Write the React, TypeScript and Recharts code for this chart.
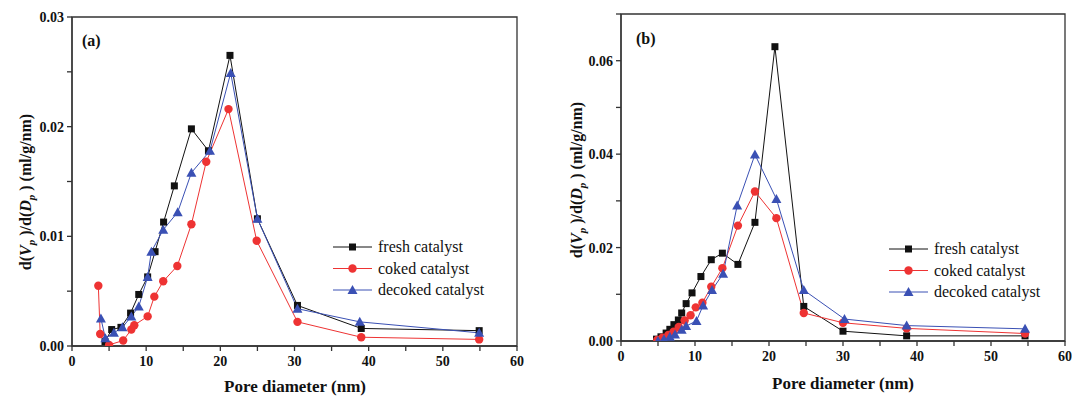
import React from "react";
import {
  LineChart,
  Line,
  XAxis,
  YAxis,
  ReferenceArea,
} from "recharts";

// panel (a) - pore size distributions
const freshA_D = [4.45, 5.35, 6.6, 7.9, 9.0, 10.2, 11.2, 12.35, 13.8, 16.1, 18.4, 21.3, 25.0, 30.4, 39.0, 54.9];
const freshA_V = [0.0004, 0.0015, 0.0017, 0.003, 0.0047, 0.0063, 0.0086, 0.0113, 0.0146, 0.0198, 0.0178, 0.0265, 0.0116, 0.0037, 0.0016, 0.0014];
const cokedA_D = [3.55, 3.8, 5.0, 6.9, 8.0, 8.4, 10.2, 11.1, 12.3, 14.2, 16.1, 18.1, 21.1, 24.9, 30.4, 39.0, 54.9];
const cokedA_V = [0.0055, 0.0011, 0.0001, 0.0005, 0.0015, 0.0019, 0.0027, 0.0045, 0.0059, 0.0073, 0.0111, 0.0168, 0.0216, 0.0096, 0.0022, 0.0008, 0.0006];
const decokedA_D = [3.9, 4.5, 5.65, 6.8, 8.0, 9.0, 10.2, 10.7, 12.3, 14.25, 16.1, 18.6, 21.4, 25.0, 30.4, 38.8, 54.9];
const decokedA_V = [0.0025, 0.0007, 0.0012, 0.0017, 0.0027, 0.0036, 0.0063, 0.0086, 0.0106, 0.0122, 0.0158, 0.0178, 0.0249, 0.0116, 0.0034, 0.0022, 0.0012];

// panel (b)
const freshB_D = [4.8, 5.4, 6.1, 6.6, 7.15, 7.75, 8.2, 8.8, 9.6, 10.8, 12.2, 13.7, 15.8, 18.1, 20.8, 24.7, 30.0, 38.6, 54.6];
const freshB_V = [0.0004, 0.0009, 0.0017, 0.0025, 0.0035, 0.0045, 0.006, 0.008, 0.0103, 0.0138, 0.0174, 0.0188, 0.0164, 0.0254, 0.063, 0.0074, 0.0021, 0.0011, 0.0011];
const cokedB_D = [4.9, 5.6, 6.4, 7.1, 7.8, 8.6, 9.4, 10.1, 11.0, 12.2, 13.7, 15.8, 18.1, 21.0, 24.7, 30.0, 38.6, 54.6];
const cokedB_V = [0.0002, 0.0007, 0.0013, 0.002, 0.003, 0.0044, 0.0055, 0.0072, 0.0082, 0.0116, 0.0156, 0.0247, 0.032, 0.0263, 0.006, 0.0039, 0.0027, 0.0016];
const decokedB_D = [5.0, 5.8, 6.6, 7.3, 8.2, 8.8, 10.2, 11.1, 12.3, 13.8, 15.7, 18.1, 21.0, 24.7, 30.2, 38.6, 54.6];
const decokedB_V = [0.0, 0.0004, 0.0009, 0.0014, 0.0024, 0.0032, 0.0043, 0.0076, 0.0109, 0.0144, 0.029, 0.0399, 0.0304, 0.0109, 0.0047, 0.0033, 0.0026];

const xTicks = [0, 5, 10, 15, 20, 25, 30, 35, 40, 45, 50, 55, 60];
const yTicksA = [0, 0.005, 0.01, 0.015, 0.02, 0.025, 0.03];
const yTicksB = [0, 0.01, 0.02, 0.03, 0.04, 0.05, 0.06, 0.07];

const seriesNames = ["fresh catalyst", "coked catalyst", "decoked catalyst"];

const BLACK = "#111111";
const RED = "#ee3333";
const BLUE = "#3a50b4";
const AXIS = "#333333";
const FONT = "Liberation Serif, serif";

const zip = (xs: number[], ys: number[]) => xs.map((x, i) => ({ x, y: ys[i] }));

const Square = (props: any) => {
  const { cx, cy, fill } = props;
  if (cx == null || cy == null) return null;
  return <rect x={cx - 3.5} y={cy - 3.5} width={7} height={7} fill={fill} />;
};
const Circle = (props: any) => {
  const { cx, cy, fill } = props;
  if (cx == null || cy == null) return null;
  return <circle cx={cx} cy={cy} r={4.2} fill={fill} />;
};
const Triangle = (props: any) => {
  const { cx, cy, fill } = props;
  if (cx == null || cy == null) return null;
  return <polygon points={`${cx},${cy - 5} ${cx - 5},${cy + 4} ${cx + 5},${cy + 4}`} fill={fill} />;
};

const markers = [Square, Circle, Triangle];
const colors = [BLACK, RED, BLUE];
const serif = { fontFamily: FONT };

const YTitle = ({ x, y }: { x: number; y: number }) => (
  <text
    transform={`translate(${x},${y}) rotate(-90)`}
    textAnchor="middle"
    style={serif}
    fontWeight="bold"
    fontSize={16}
    fill="#111"
  >
    d(<tspan fontStyle="italic">V</tspan>
    <tspan fontStyle="italic" fontSize={11} dy={4}>p</tspan>
    <tspan dy={-4}> )/d(</tspan>
    <tspan fontStyle="italic">D</tspan>
    <tspan fontStyle="italic" fontSize={11} dy={4}>p</tspan>
    <tspan dy={-4}> ) (ml/g/nm)</tspan>
  </text>
);

function Panel(props: {
  series: { x: number; y: number }[][];
  yMax: number;
  yTicks: number[];
  yFmt: (v: number) => string;
  margin: { top: number; right: number; left: number; bottom: number };
  yWidth: number;
  xHeight: number;
  tag: string;
  tagPos: [number, number];
  yTitlePos: [number, number];
  xTitlePos: [number, number];
  legendPos: [number, number];
}) {
  const p = props;
  const tickStyle = { fontFamily: FONT, fontWeight: "bold", fontSize: 14, fill: "#111", style: serif };
  return (
    <LineChart width={536} height={400} margin={p.margin} style={serif}>
      <XAxis
        type="number"
        dataKey="x"
        domain={[0, 60]}
        ticks={xTicks}
        tickFormatter={(v: number) => (v % 10 === 0 ? String(v) : "")}
        stroke={AXIS}
        strokeWidth={1.3}
        tickSize={5}
        tickMargin={5}
        height={p.xHeight}
        tick={tickStyle}
        allowDataOverflow
      />
      <YAxis
        type="number"
        dataKey="y"
        domain={[0, p.yMax]}
        ticks={p.yTicks}
        tickFormatter={p.yFmt}
        stroke={AXIS}
        strokeWidth={1.3}
        tickSize={5}
        tickMargin={3}
        width={p.yWidth}
        tick={tickStyle}
        allowDataOverflow
      />
      <ReferenceArea x1={0} x2={60} y1={0} y2={p.yMax} fill="none" stroke={AXIS} strokeWidth={1.3} />
      {p.series.map((d, i) => (
        <Line
          key={i}
          data={d}
          dataKey="y"
          stroke={colors[i]}
          strokeWidth={1}
          dot={markers[i]}
          activeDot={false}
          fill={colors[i]}
          isAnimationActive={false}
        />
      ))}
      <text x={p.tagPos[0]} y={p.tagPos[1]} style={serif} fontWeight="bold" fontSize={16} fill="#111">
        {p.tag}
      </text>
      <YTitle x={p.yTitlePos[0]} y={p.yTitlePos[1]} />
      <text
        x={p.xTitlePos[0]}
        y={p.xTitlePos[1]}
        textAnchor="middle"
        style={serif}
        fontWeight="bold"
        fontSize={17}
        fill="#111"
      >
        Pore diameter (nm)
      </text>
      {seriesNames.map((name, i) => {
        const [lx, ly] = p.legendPos;
        const y = ly + i * 21.5;
        const M = markers[i];
        return (
          <g key={name}>
            <line x1={lx} x2={lx + 39} y1={y} y2={y} stroke={colors[i]} strokeWidth={1} />
            <M cx={lx + 19.5} cy={y} fill={colors[i]} />
            <text x={lx + 45} y={y + 5} style={serif} fontSize={16} fill="#111">
              {name}
            </text>
          </g>
        );
      })}
    </LineChart>
  );
}

export default function App() {
  return (
    <div style={{ position: "absolute", left: 0, top: 0, width: 1072, height: 400, background: "#fff", fontFamily: FONT }}>
      <div style={{ position: "absolute", left: 0, top: 0 }}>
        <Panel
          series={[zip(freshA_D, freshA_V), zip(cokedA_D, cokedA_V), zip(decokedA_D, decokedA_V)]}
          yMax={0.03}
          yTicks={yTicksA}
          yFmt={(v: number) => (Math.round(v * 1000) % 10 === 0 ? v.toFixed(2) : "")}
          margin={{ top: 17, right: 19, left: 0, bottom: 0 }}
          yWidth={72}
          xHeight={54}
          tag="(a)"
          tagPos={[82, 46]}
          yTitlePos={[31, 192]}
          xTitlePos={[295, 392]}
          legendPos={[333, 247]}
        />
      </div>
      <div style={{ position: "absolute", left: 536, top: 0 }}>
        <Panel
          series={[zip(freshB_D, freshB_V), zip(cokedB_D, cokedB_V), zip(decokedB_D, decokedB_V)]}
          yMax={0.07}
          yTicks={yTicksB}
          yFmt={(v: number) => (Math.round(v * 100) % 2 === 0 ? v.toFixed(2) : "")}
          margin={{ top: 14, right: 7, left: 0, bottom: 0 }}
          yWidth={85}
          xHeight={59}
          tag="(b)"
          tagPos={[100, 44]}
          yTitlePos={[46, 180]}
          xTitlePos={[307, 389]}
          legendPos={[353, 249]}
        />
      </div>
    </div>
  );
}
